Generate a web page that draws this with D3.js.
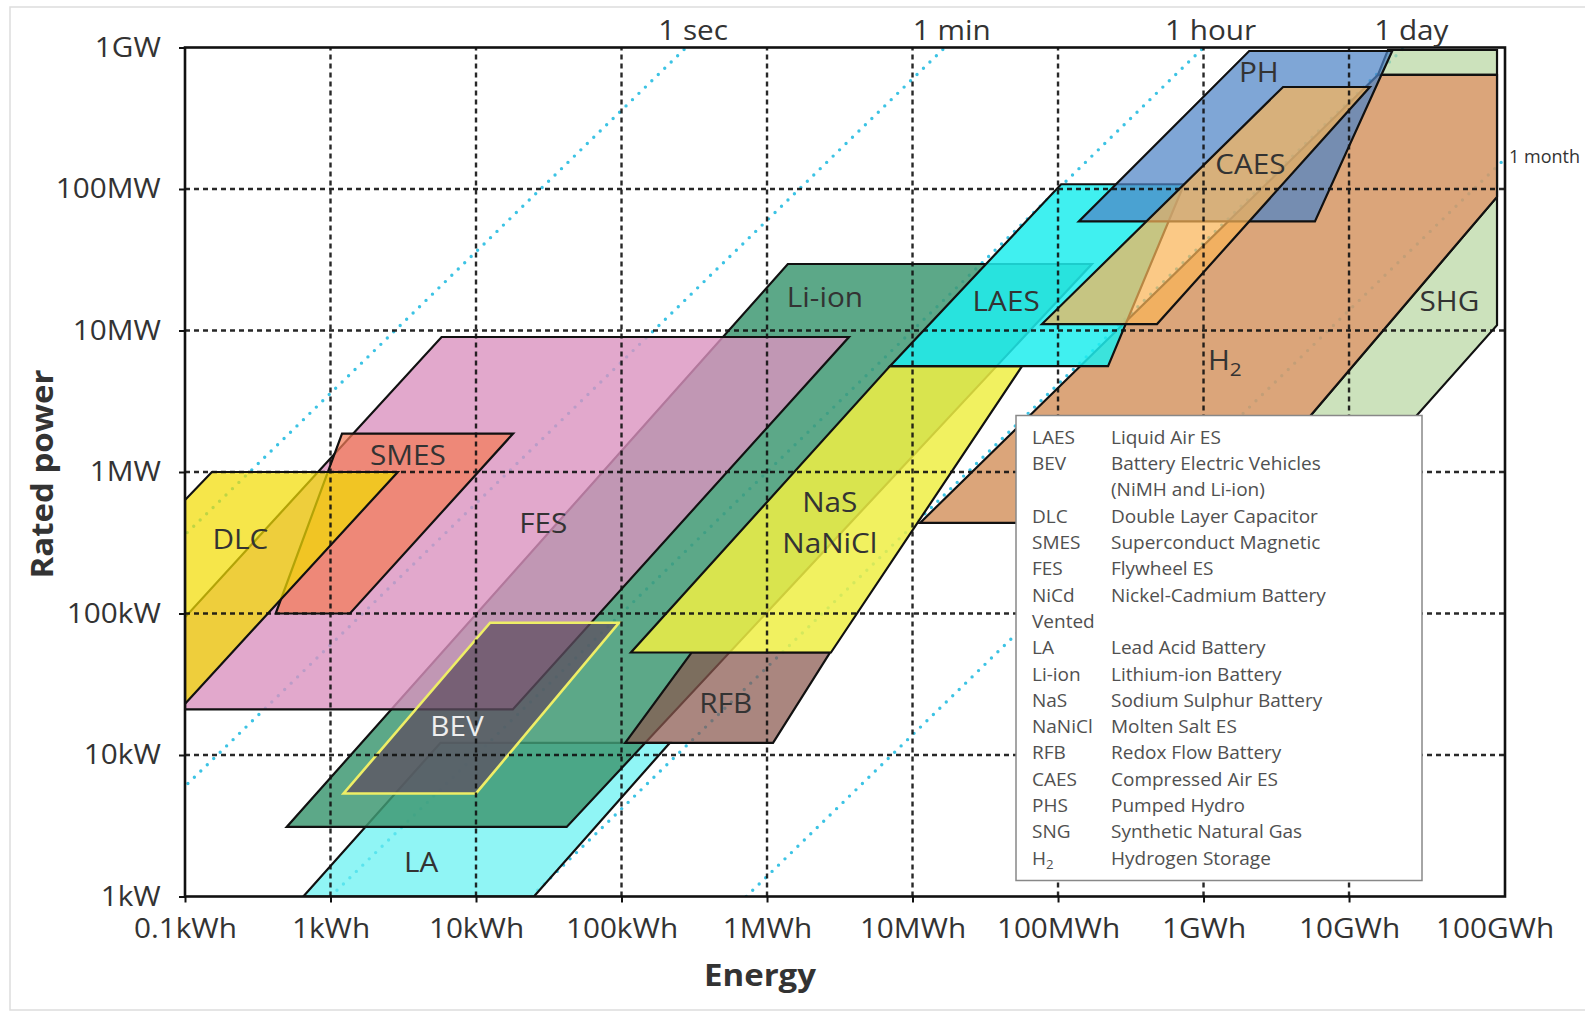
<!DOCTYPE html>
<html>
<head>
<meta charset="utf-8">
<script src="https://cdn.jsdelivr.net/npm/d3@7"></script>
<style>
  body { margin: 0; background: #fff; }
  svg { display: block; font-family: "Open Sans", sans-serif; }
</style>
</head>
<body>
<svg id="chart" width="1585" height="1013"></svg>
<script>
// energy in kWh, power in kW
const energyTicks = [0.1, 1, 10, 100, 1e3, 1e4, 1e5, 1e6, 1e7, 1e8];
const energyLabels = ["0.1kWh", "1kWh", "10kWh", "100kWh", "1MWh", "10MWh", "100MWh", "1GWh", "10GWh", "100GWh"];
const powerTicks = [1, 10, 100, 1e3, 1e4, 1e5, 1e6];
const powerLabels = ["1kW", "10kW", "100kW", "1MW", "10MW", "100MW", "1GW"];

// discharge time lines (hours)
const spanNames = ["1 sec", "1 min", "1 hour", "1 day", "1 month"];
const spanHours = [1 / 3600, 1 / 60, 1, 24, 720];

// corners of each technology area, [energy, power]
const shg = [[1.85e7, 9.6e5], [1.04e8, 9.6e5], [1.04e8, 1.09e4], [1.35e7, 1030], [2.6e6, 1030],
  [1.04e8, 8.8e4], [1.04e8, 6.4e5], [1.58e7, 6.4e5]];
const h2 = [[1.58e7, 6.4e5], [1.04e8, 6.4e5], [1.04e8, 8.8e4], [1.28e6, 437], [11270, 437]];
const la = [[0.65, 1], [25, 1], [215, 12.2], [5.7, 12.2]];
const liIon = [[1390, 29500], [171000, 29500], [42, 3.1], [0.5, 3.1]];
const fes = [[5.8, 9000], [3660, 9000], [17.9, 21], [0.1, 21], [0.1, 94]];
const smes = [[1.2, 1870], [18, 1870], [1.36, 100], [0.42, 100]];
const dlc = [[0.1, 634], [0.153, 1000], [2.9, 1000], [0.1, 23]];
const bev = [[12.5, 86], [96, 86], [10, 5.35], [1.23, 5.35]];
const rfb = [[303, 53], [2710, 53], [1100, 12.2], [106, 12.2]];
const nas = [[7000, 5600], [56600, 5600], [2750, 53], [116, 53]];
const laes = [[1.05e5, 1.08e5], [7.35e5, 1.08e5], [220800, 5600], [7000, 5600]];
const ph = [[2.06e6, 9.45e5], [1.98e7, 9.45e5], [5.83e6, 5.9e4], [1.39e5, 5.9e4]];
const caes = [[3.52e6, 5.26e5], [1.39e7, 5.26e5], [4.79e5, 1.11e4], [7.76e4, 1.11e4]];

// bottom to top
const techNames = ["SHG", "H2", "LA", "Li-ion", "FES", "SMES", "DLC", "BEV", "RFB", "NaS", "LAES", "PH", "CAES"];
const techShapes = [shg, h2, la, liIon, fes, smes, dlc, bev, rfb, nas, laes, ph, caes];

const tagText = ["DLC", "SMES", "FES", "BEV", "LA", "Li-ion", "NaS", "NaNiCl", "RFB", "LAES", "CAES", "PH", "H2", "SHG"];
const tagAt = [[0.24, 335], [3.4, 1300], [29, 430], [7.4, 16], [4.2, 1.75], [2500, 17000], [2700, 610], [2700, 310],
  [520, 23], [44000, 16000], [2.1e6, 1.5e5], [2.4e6, 6.7e5], [1.4e6, 6100], [4.9e7, 16000]];

const keyCodes = ["LAES", "BEV", "", "DLC", "SMES", "FES", "NiCd", "Vented", "LA", "Li-ion", "NaS", "NaNiCl", "RFB", "CAES", "PHS", "SNG", "H2"];
const keyNames = ["Liquid Air ES", "Battery Electric Vehicles", "(NiMH and Li-ion)", "Double Layer Capacitor",
  "Superconduct Magnetic", "Flywheel ES", "Nickel-Cadmium Battery", "", "Lead Acid Battery", "Lithium-ion Battery",
  "Sodium Sulphur Battery", "Molten Salt ES", "Redox Flow Battery", "Compressed Air ES", "Pumped Hydro",
  "Synthetic Natural Gas", "Hydrogen Storage"];

// fill colour and opacity per area
const fills = {
  "SHG": ["#b8d7a2", 0.72], "H2": ["#d69968", 0.88], "LA": ["#65f1f1", 0.72], "Li-ion": ["#3f9973", 0.85],
  "FES": ["#db92bf", 0.8], "SMES": ["#f37c57", 0.72], "DLC": ["#f2dc04", 0.72], "BEV": ["#5e4e60", 0.75],
  "RFB": ["#89584e", 0.72], "NaS": ["#eeee44", 0.85], "LAES": ["#1eeded", 0.85], "PH": ["#4d83c6", 0.72],
  "CAES": ["#f9b458", 0.72]
};

const svg = d3.select("#chart");
const width = +svg.attr("width"), height = +svg.attr("height");
const margin = { top: 47.5, right: 80, bottom: 116.5, left: 185 };

const x = d3.scaleLog().domain([0.1, 1.18e8]).range([margin.left, width - margin.right]);
const y = d3.scaleLog().domain([1, 1e6]).range([height - margin.bottom, margin.top]);
const [x0, x1] = x.range(), [y0, y1] = y.range();

// text helper, the source font is a bit wide
function put(sel, px, py, str, o = {}) {
  const t = sel.append("text")
    .attr("transform", `translate(${px},${py})` + (o.rot ? ` rotate(${o.rot})` : "") + ` scale(${o.sx || 1.1},1)`)
    .attr("text-anchor", o.anchor || "middle")
    .attr("dy", o.dy || 0)
    .attr("fill", o.color || "#333")
    .style("font-size", (o.size || 27) + "px")
    .style("font-weight", o.weight || 400);
  if (str === "H2") {
    t.append("tspan").text("H");
    t.append("tspan").attr("dy", "0.3em").style("font-size", "0.7em").text("2");
  } else {
    t.text(str);
  }
  return t;
}

// faint outer frame
svg.append("rect")
  .attr("x", 10).attr("y", 7).attr("width", width).attr("height", height - 10)
  .attr("fill", "none").attr("stroke", "#ddd").attr("stroke-width", 1.5);

svg.append("defs").append("clipPath").attr("id", "plot")
  .append("rect").attr("x", x0).attr("y", y1).attr("width", x1 - x0).attr("height", y0 - y1);

// time lines under the areas
const lines = svg.append("g").attr("clip-path", "url(#plot)");
spanHours.forEach(t => {
  lines.append("line")
    .attr("x1", x(t * 1)).attr("y1", y(1))
    .attr("x2", x(t * 1e6)).attr("y2", y(1e6))
    .attr("stroke", "#3cc3e4")
    .attr("stroke-width", 3.4)
    .attr("stroke-linecap", "round")
    .attr("stroke-dasharray", "0 9");
});

// technology areas
const area = d3.line().x(d => x(d[0])).y(d => y(d[1]));
const areas = svg.append("g").attr("clip-path", "url(#plot)");
techShapes.forEach((shape, i) => {
  const name = techNames[i];
  areas.append("path")
    .attr("d", area(shape) + "Z")
    .attr("fill", fills[name][0])
    .attr("fill-opacity", fills[name][1])
    .attr("stroke", name === "BEV" ? "#eeee66" : "#111")
    .attr("stroke-width", name === "BEV" ? 2.6 : 2.2)
    .attr("stroke-linejoin", "miter");
});

// dotted grid
const grid = svg.append("g")
  .attr("stroke", "#111")
  .attr("stroke-width", 2.4)
  .attr("stroke-dasharray", "5,4")
  .attr("opacity", 0.9);
energyTicks.slice(1, 9).forEach(e => {
  grid.append("line").attr("x1", x(e)).attr("x2", x(e)).attr("y1", y0).attr("y2", y1);
});
powerTicks.slice(1, 6).forEach(p => {
  grid.append("line").attr("x1", x0).attr("x2", x1).attr("y1", y(p)).attr("y2", y(p));
});

// plot frame
svg.append("rect")
  .attr("x", x0).attr("y", y1).attr("width", x1 - x0).attr("height", y0 - y1)
  .attr("fill", "none").attr("stroke", "#111").attr("stroke-width", 2.6);

// axes
const xAxis = svg.append("g")
  .attr("transform", `translate(0,${y0})`)
  .call(d3.axisBottom(x)
    .tickValues(energyTicks)
    .tickFormat((_, i) => energyLabels[i])
    .tickSize(6)
    .tickPadding(16));
xAxis.select(".domain").remove();
xAxis.selectAll(".tick line").attr("stroke", "#111").attr("stroke-width", 2)
  .filter(d => d > 1e7).remove();
xAxis.selectAll("text")
  .attr("transform", "scale(1.1,1)")
  .attr("fill", "#333")
  .style("font-size", "27px")
  .style("font-family", "'Open Sans', sans-serif");

const yAxis = svg.append("g")
  .attr("transform", `translate(${x0},0)`)
  .call(d3.axisLeft(y)
    .tickValues(powerTicks)
    .tickFormat((_, i) => powerLabels[i])
    .tickSize(6)
    .tickPadding(16));
yAxis.select(".domain").remove();
yAxis.selectAll(".tick line").attr("stroke", "#111").attr("stroke-width", 2);
yAxis.selectAll("text")
  .attr("transform", "scale(1.1,1)")
  .attr("fill", "#333")
  .style("font-size", "27px")
  .style("font-family", "'Open Sans', sans-serif");

put(svg, 53, (y0 + y1) / 2 + 2, "Rated power", { rot: -90, size: 30, weight: 700 });
put(svg, 760, 986, "Energy", { size: 30, weight: 700 });

// time labels
spanNames.forEach((name, i) => {
  if (i < 4) {
    put(svg, x(spanHours[i] * 1e6) + 7, 40, name);
  } else {
    put(svg, x1 + 4, y(x.domain()[1] / spanHours[i]) + 4, name, { anchor: "start", size: 18, sx: 1 });
  }
});

// area labels
tagText.forEach((name, i) => {
  put(svg, x(tagAt[i][0]), y(tagAt[i][1]), name, {
    dy: "0.35em",
    color: name === "BEV" ? "#eeeeee" : "#333"
  });
});

// legend
const key = svg.append("g");
key.append("rect")
  .attr("x", 1016).attr("y", 415.5).attr("width", 406).attr("height", 465)
  .attr("fill", "#fff").attr("stroke", "#888").attr("stroke-width", 1.5);
keyCodes.forEach((code, i) => {
  const by = 443.8 + i * 26.3;
  if (code) put(key, 1032, by, code, { anchor: "start", size: 19, sx: 1, color: "#505050" });
  if (keyNames[i]) put(key, 1111, by, keyNames[i], { anchor: "start", size: 19, sx: 1, color: "#505050" });
});
</script>
</body>
</html>
